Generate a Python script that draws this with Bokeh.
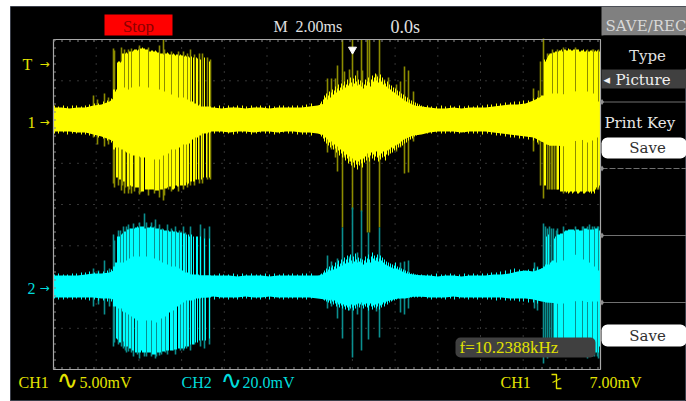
from bokeh.plotting import figure
from bokeh.models import Label, BoxAnnotation
from bokeh.embed import file_html
from bokeh.resources import INLINE

# Trace data: sample index along the screen, amplitude in counts around each channel's baseline
knots = list(range(53, 598, 8)) + [600]
ch1_up = [12,12,11,12,12,14,15,18,24,25,
          28,32,30,27,24,21,18,14,13,12,
          12,11,12,12,11,12,12,11,12,12,
          12,12,13,14,16,20,24,29,27,27,
          31,31,24,21,17,14,13,12,11,11,
          12,11,12,12,12,13,14,15,15,16,
          19,23,23,23,26,28,27,24,15,13]
ch1_dn = [12,12,12,13,13,15,17,20,24,26,
          28,30,32,28,24,21,17,15,13,12,
          12,12,13,12,12,13,12,12,13,12,
          12,13,13,14,16,20,26,31,35,33,
          29,29,26,23,19,16,15,13,12,12,
          12,13,12,12,12,13,14,15,16,17,
          18,22,26,26,27,22,20,24,16,13]
ch2_up = [11,11,11,11,12,13,13,14,18,20,
          22,26,24,20,18,16,13,12,11,11,
          11,11,11,10,11,11,11,10,11,11,
          11,11,11,11,12,13,15,18,20,19,
          22,20,16,15,13,12,11,11,10,11,
          11,10,11,11,11,12,12,13,15,16,
          15,18,20,22,26,33,28,24,15,12]
ch2_dn = [11,11,11,11,11,11,12,12,14,15,
          18,20,20,16,14,13,12,12,11,11,
          10,11,11,11,10,11,11,10,11,11,
          11,11,11,12,13,13,14,15,16,15,
          15,16,14,12,12,10,10,11,11,11,
          10,11,11,11,11,11,11,12,12,12,
          13,15,16,17,17,15,14,16,12,11]

burst_a_x = list(range(113, 211))
ch1_a_up = [30,30,28,30,57,58,58,57,58,66,66,32,66,67,66,30,68,68,32,68,69,70,70,70,69,70,33,71,71,72,71,71,70,70,70,32,
            68,68,69,69,68,68,69,68,67,67,30,66,66,66,65,28,66,66,67,66,65,65,25,65,66,65,64,65,65,22,64,65,64,64,22,63,64,63,
            20,63,62,18,63,18,62,16,16,62,61,14,15,60,13,13,13,62,13,13,13,13,58,13]
ch1_a_dn = [30,30,28,58,58,28,60,60,30,30,62,62,32,33,67,67,34,66,67,67,36,36,68,68,68,68,37,38,72,72,72,38,70,70,70,70,
            70,70,70,70,70,40,71,71,71,71,40,70,70,70,36,69,69,69,68,34,67,67,30,70,70,69,30,66,67,67,28,66,66,66,25,66,66,25,
            65,64,24,62,62,20,62,62,18,60,18,60,16,16,60,14,58,14,14,58,14,13,58,13]
ch2_a_up = [20,20,24,24,50,50,50,24,52,53,24,55,55,26,57,57,28,58,58,58,30,58,59,59,60,59,30,60,60,60,60,58,58,30,59,59,
            59,60,59,59,59,28,58,58,58,58,26,57,57,24,57,56,56,56,22,56,55,55,20,56,55,55,20,55,54,54,18,54,54,16,53,53,14,52,
            14,52,50,12,52,12,50,12,12,50,50,12,11,50,11,11,11,48,11,11,11,11,48,11]
ch2_a_dn = [20,20,20,52,53,22,56,56,22,25,55,60,26,60,60,28,62,62,30,64,64,32,66,66,34,66,66,66,64,66,66,66,66,34,66,66,
            66,66,34,68,68,68,68,36,66,66,66,66,32,65,65,65,30,64,64,64,26,64,64,64,24,63,63,63,20,62,62,18,62,62,16,62,60,14,
            60,60,14,58,14,58,58,13,56,12,56,12,54,12,11,54,11,11,54,11,11,11,52,11]

burst_m_x = list(range(320, 425))
ch1_m_up = [16,18,15,20,24,22,26,20,24,28, 22,27,30,25,29,33,27,31,35,29, 32,36,30,34,38,32,35,40,34,36,
            42,37,33,41,36,44,38,34,40,35, 39,33,37,31,35,40,34,38,42,37, 33,40,44,38,42,46,39,43,37,41,
            45,38,42,35,39,36,33,38,31,35, 30,34,28,32,27,31,25,29,24,28, 22,26,21,25,19,23,18,22,17,20,
            16,19,15,18,14,17,13,16,13,15, 13,14,12,13,12]
ch1_m_dn = [15,17,14,19,22,18,24,20,26,23, 28,22,26,30,25,29,33,27,31,36, 30,34,38,32,36,41,35,39,44,37,
            42,46,39,43,48,41,45,50,42,46, 40,44,48,39,43,37,41,34,38,42, 36,33,39,35,41,37,32,38,42,36,
            40,34,38,32,37,41,35,31,36,30, 34,28,33,29,31,26,30,25,28,24, 27,22,26,20,24,19,23,18,21,17,
            20,16,19,15,17,14,16,13,15,13, 14,12,13,12,13]
ch2_m_up = [12,13,12,14,16,14,18,15,17,20, 16,19,21,17,20,24,18,22,26,20, 23,27,21,25,29,23,27,31,24,28,
            32,26,23,30,25,33,27,24,29,25, 28,24,27,22,26,30,24,28,32,27, 24,30,34,28,31,26,29,32,25,28,
            31,26,29,24,27,22,25,21,24,20, 23,19,22,18,21,24,18,20,17,19, 16,18,15,17,14,16,13,15,12,14,
            12,13,11,13,11,12,11,12,11,11, 11,12,11,11,11]
ch2_m_dn = [11,12,11,13,14,12,15,13,16,14, 17,13,15,18,14,17,20,16,18,21, 17,19,22,18,20,23,19,21,24,20,
            22,18,21,24,19,22,18,20,17,21, 18,16,19,22,18,20,17,21,24,19, 17,20,23,19,21,18,22,20,17,23,
            19,21,18,16,20,17,15,18,14,16, 13,15,14,12,14,11,13,12,11,12, 11,10,11,10,11,10,11,10,10,11,
            10,11,10,10,11,10,10,11,10,10, 10,11,10,10,10]

burst_r_x = list(range(541, 600))
ch1_r_up = [24,24,24,60,58,60,62,64,65,66,66,26,67,67,68,68,26,68,69,69,70,68,24,70,70,69,69,71,70,70,
            69,69,70,70,28,70,70,70,68,68,69,69,70,68,68,69,28,68,68,69,69,68,26,68,69,68,69,18,68]
ch1_r_dn = [22,22,22,66,66,25,25,25,26,26,26,26,26,26,26,26,70,70,26,72,72,72,26,72,72,73,72,74,73,72,
            72,74,73,72,18,72,74,74,73,72,72,20,74,74,73,72,20,72,73,72,74,20,72,74,70,68,18,68,66]
ch2_r_up = [18,18,20,20,22,50,22,52,22,24,25,26,26,48,50,24,52,52,52,53,53,53,26,55,56,56,56,57,57,57,
            57,57,57,56,24,57,57,57,56,56,56,56,24,58,58,58,57,57,22,57,57,57,57,20,58,58,58,16,56]
ch2_r_dn = [14,14,14,15,16,16,16,16,16,16,16,16,16,60,60,62,17,63,63,63,64,64,15,65,65,65,65,65,65,65,
            65,65,65,65,12,66,66,66,66,66,66,14,66,66,66,66,15,66,66,66,66,15,66,66,66,66,15,66,60]

fringe_x = [54,58,63,67,72,76,81,85,89,94,98,103,107,111,
            214,219,223,228,233,237,242,246,251,256,260,265,269,274,279,283,288,292,297,302,306,311,
            427,431,436,441,445,450,454,459,464,468,473,477,482,487,491,496,500,505,510,514,519,523,528,533,537]
ch1_f_up = [14,13,14,13,14,14,13,14,15,16,16,18,19,21,
            13,14,13,14,13,14,14,13,14,13,14,13,14,13,14,14,13,14,14,14,15,16,
            14,13,13,14,13,14,13,14,13,14,13,14,14,15,15,16,16,17,17,18,18,19,19,21,22]
ch1_f_dn = [14,14,13,15,14,14,15,15,16,17,18,19,21,23,
            14,13,14,14,15,14,13,14,15,14,13,14,14,15,14,13,14,14,15,15,15,16,
            14,14,13,14,14,13,14,14,13,14,14,14,15,14,15,16,16,17,18,18,19,19,20,21,23]
ch2_f_up = [12,13,12,12,13,13,14,14,15,14,15,15,16,17,
            12,13,12,12,13,12,13,12,13,12,12,13,12,13,12,13,12,13,12,13,13,13,
            12,12,13,12,12,13,12,12,13,12,13,12,13,13,14,14,15,16,17,18,17,16,17,18,19]
ch2_f_dn = [12,13,13,12,13,12,13,13,14,13,14,14,15,15,
            13,12,12,13,12,13,12,12,13,12,13,12,13,12,12,13,12,12,13,12,13,12,
            12,13,12,12,13,12,13,12,12,13,12,13,12,13,13,14,13,14,14,14,15,15,16,16,17]

ch1_thin_x  = [93,97,104,108,113,114,121,124,128,131,139,148,159,163,164,171,178,183,187,190,194,199,202,207,210,
               118,122,125,129,134,140,154,168,175,186,195,
               327,331,335,337,342,344,349,352,357,361,362,367,369,376,379,384,388,396,400,404,408,413,
               533,538,540,543,547,549,551,552,554,556,557,563,575,582,587,592,593,597,598]
ch1_thin_up = [24,20,26,22,71,69,72,70,70,71,74,72,74,80,70,68,68,68,66,70,65,66,66,62,60,
               10,10,10,10,10,10,10,10,10,10,10,
               41,41,41,54,80,48,50,80,49,80,49,80,80,45,80,40,42,35,38,53,49,28,
               31,29,58,81,66,66,66,70,66,66,70,72,72,68,70,70,70,68,70]
ch1_thin_dn = [18,25,27,25,64,68,71,74,74,74,75,76,78,81,76,72,72,70,68,66,66,64,64,60,60,
               66,66,68,70,72,73,74,70,66,63,60,
               33,30,38,52,108,38,42,90,45,92,40,113,113,30,108,30,35,32,28,54,53,22,
               32,25,66,79,70,70,70,70,70,70,70,74,72,72,72,72,70,70,70]
ch2_thin_x  = [93,98,104,109,113,114,118,123,126,128,133,139,144,146,151,155,159,167,175,183,190,200,204,209,
               121,125,131,137,156,161,165,173,180,186,194,
               120,129,154,162,171,179,185,
               327,331,337,342,349,352,357,361,368,376,379,400,404,408,
               534,537,543,545,547,549,551,553,556,557,563,575,582,583,587,589,592,594,597,598]
ch2_thin_up = [18,16,26,18,52,46,56,60,60,62,63,64,73,64,64,67,62,62,60,60,60,62,58,60,
               10,10,10,10,10,10,10,10,10,10,10,
               56,58,60,58,58,56,54,
               31,25,28,59,30,79,34,76,54,28,59,24,25,26,
               24,20,63,60,58,60,58,58,56,58,60,60,60,60,60,62,60,60,60,60]
ch2_thin_dn = [20,18,28,20,60,56,58,62,66,65,70,72,70,70,70,72,69,68,68,64,64,60,62,58,
               60,64,66,68,70,68,66,64,64,62,58,
               10,10,10,10,10,10,10,
               22,20,32,52,24,71,28,64,53,25,51,26,28,22,
               22,24,77,70,72,70,70,68,70,68,70,70,70,70,72,70,70,70,70,72]

ch1_baseline, ch2_baseline = 85, -82
trigger_sample = 352
h_divs = [95.7, 138.4, 181.1, 223.8, 266.5, 309.2, 351.9, 394.6, 437.3, 480.0, 522.7, 565.4]
v_divs = [80.3, 121.5, 162.8, 204.0, 245.3, 286.5, 327.8]

YEL, OLV, CYN, TEAL = "#ffff00", "#8c8c00", "#00ffff", "#0b8f8f"
LBL_Y, LBL_C = "#e2e200", "#00dcdc"
SERIF, MENU = "Liberation Serif", "DejaVu Serif"


def Y(py):
    return 204 - py


p = figure(width=686, height=401, x_range=(10, 686), y_range=(-197, 198),
           output_backend="svg", toolbar_location=None, min_border_left=10,
           min_border_right=0, min_border_top=6, min_border_bottom=0)
p.axis.visible = False
p.grid.visible = False
p.background_fill_color = "#000000"
p.border_fill_color = "#ffffff"
p.outline_line_color = "#3b3f4a"

# graticule dots
top, bottom, left, right = Y(39), Y(369), 53, 600
p.multi_line([[x, x] for x in h_divs], [[top, bottom]] * len(h_divs),
             line_color="#6a6a6a", line_width=1, line_dash="1 7")
p.multi_line([[left, right]] * len(v_divs), [[Y(y), Y(y)] for y in v_divs],
             line_color="#6a6a6a", line_width=1, line_dash="1 7")


def trace(up, dn, bx, bup, bdn, tx, tup, tdn, base, bright, dim):
    p.segment(tx, [base + v for v in tup], tx, [base - v for v in tdn], line_color=dim, line_width=1.6)
    p.varea(knots, [base + v for v in up], [base - v for v in dn], fill_color=bright)
    for xs, us, ds in zip(bx, bup, bdn):
        p.segment(xs, [base + v for v in us], xs, [base - v for v in ds], line_color=bright, line_width=1)


trace(ch1_up, ch1_dn, [burst_a_x, burst_m_x, burst_r_x, fringe_x],
      [ch1_a_up, ch1_m_up, ch1_r_up, ch1_f_up], [ch1_a_dn, ch1_m_dn, ch1_r_dn, ch1_f_dn],
      ch1_thin_x, ch1_thin_up, ch1_thin_dn, ch1_baseline, YEL, OLV)
trace(ch2_up, ch2_dn, [burst_a_x, burst_m_x, burst_r_x, fringe_x],
      [ch2_a_up, ch2_m_up, ch2_r_up, ch2_f_up], [ch2_a_dn, ch2_m_dn, ch2_r_dn, ch2_f_dn],
      ch2_thin_x, ch2_thin_up, ch2_thin_dn, ch2_baseline, CYN, TEAL)

# graticule frame and edge ticks
p.line([left, right, right, left, left], [top, top, bottom, bottom, top], line_color="#a8a8a8", line_width=1.2)
p.line([left, right], [top - 1.5, top - 1.5], line_color="#8a8a8a", line_width=2, line_dash="1 7")
p.line([left, right], [bottom + 1.5, bottom + 1.5], line_color="#8a8a8a", line_width=2, line_dash="1 7")
p.line([left + 1.5, left + 1.5], [top, bottom], line_color="#8a8a8a", line_width=2, line_dash="1 7")

# trigger position marker
p.scatter([trigger_sample], [Y(49)], marker="inverted_triangle", size=8, fill_color="#ffffff", line_color="#ffffff")


def box(x0, x1, y0, y1, color, radius=0):
    p.add_layout(BoxAnnotation(left=x0, right=x1, top=Y(y0), bottom=Y(y1), fill_color=color, fill_alpha=1,
                               line_color=None, border_radius=radius))


def text(x, y, s, color, size=16, font=SERIF, align="left"):
    p.add_layout(Label(x=x, y=Y(y), text=s, text_color=color, text_font=font, text_font_size=f"{size}px",
                       text_baseline="middle", text_align=align))


# top status
box(104, 172, 14, 35, "#ff0000")
text(138, 25.5, "Stop", "#8c0000", 17, align="center")
text(273, 26, "M", "#e0e0e0")
text(295, 26, "2.00ms", "#e0e0e0")
text(390, 26, "0.0s", "#e0e0e0", 18)

# side markers
text(22, 64, "T", LBL_Y)
text(39, 63, "→", LBL_Y, 12, "DejaVu Sans")
text(27, 122, "1", LBL_Y)
text(39, 121, "→", LBL_Y, 12, "DejaVu Sans")
text(27, 288, "2", LBL_C)
text(39, 287, "→", LBL_C, 12, "DejaVu Sans")

# frequency box
box(455, 595, 337, 357, "#404040", 5)
text(459, 347, "f=10.2388kHz", LBL_Y, 17)

# bottom status
text(18, 382, "CH1", LBL_Y)
text(56, 379, "∿", LBL_Y, 26, "DejaVu Sans")
text(79, 382, "5.00mV", LBL_Y)
text(181, 382, "CH2", LBL_C)
text(220, 379, "∿", LBL_C, 26, "DejaVu Sans")
text(242, 382, "20.0mV", LBL_C)
text(500, 382, "CH1", LBL_Y)
p.line([551, 556, 556, 561], [Y(374), Y(374), Y(388), Y(388)], line_color=LBL_Y, line_width=1.4)
p.line([552, 560], [Y(382), Y(378)], line_color=LBL_Y, line_width=1.2)
text(589, 382, "7.00mV", LBL_Y)

# right menu
box(601, 686, 6, 35, "#808080")
box(601, 686, 35, 69, "#000000", 3)
text(605, 25, "SAVE/REC", "#d8d8d8", 15, MENU)
text(647, 55, "Type", "#e0e0e0", 15, MENU, "center")
box(601, 686, 69, 88, "#404040")
text(603, 79, "◂", "#f0f0f0", 13, "DejaVu Sans")
text(615, 79, "Picture", "#f0f0f0", 15, MENU)
text(604, 122, "Print Key", "#e8e8e8", 15, MENU)
box(601, 686, 137, 158, "#ffffff", 6)
text(647, 147.5, "Save", "#303030", 15, MENU, "center")
box(601, 686, 324, 346, "#ffffff", 6)
text(647, 335, "Save", "#303030", 15, MENU, "center")
for sep_y, dash in zip([101.5, 168, 235, 302], ["solid", "6 2", "solid", "solid"]):
    p.line([601, 686], [Y(sep_y), Y(sep_y)], line_color="#707070", line_width=1, line_dash=dash)
p.scatter([601.5] * 4, [Y(y) for y in [101.5, 168, 235, 302]], marker="diamond", size=6,
          fill_color="#909090", line_color=None)

open("out.html", "w").write(file_html(p, INLINE))
